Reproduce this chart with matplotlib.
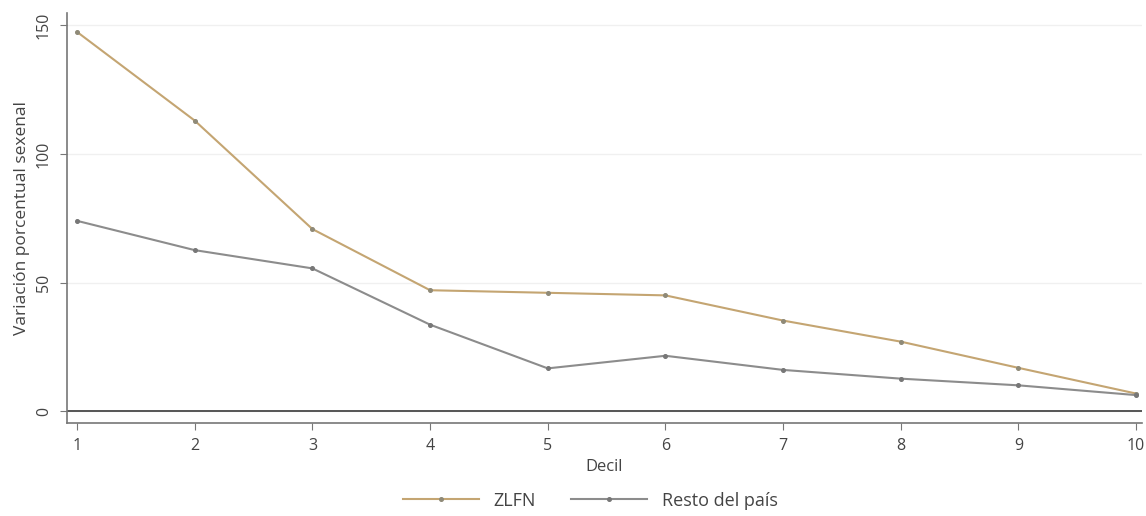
import matplotlib
matplotlib.use("Agg")
import matplotlib.pyplot as plt

deciles = [1, 2, 3, 4, 5, 6, 7, 8, 9, 10]
zlfn = [147.5, 113.0, 70.8, 47.0, 46.0, 45.0, 35.2, 27.0, 16.8, 6.8]
resto = [74.0, 62.6, 55.5, 33.6, 16.6, 21.5, 16.0, 12.6, 10.0, 6.2]
yticks = [0, 50, 100, 150]

plt.rcParams['font.family'] = ['Open Sans', 'DejaVu Sans']

fig = plt.figure(figsize=(11.46, 5.16), dpi=100)
ax = fig.add_axes([0.0585, 0.180, 0.938, 0.795])

ax.axhline(0, color='#555555', lw=1.4, zorder=1)
l1, = ax.plot(deciles, zlfn, color='#c4a572', lw=1.5, marker='o', ms=2.6,
              mfc='#8f8a78', mec='#8f8a78', label='ZLFN', zorder=3)
l2, = ax.plot(deciles, resto, color='#8c8c8c', lw=1.5, marker='o', ms=2.6,
              mfc='#777777', mec='#777777', label='Resto del país', zorder=3)

ax.set_xlim(0.915, 10.05)
ax.set_ylim(-4.7, 154.9)
ax.set_xticks(deciles)
ax.set_yticks(yticks)
ax.set_yticklabels([str(v) for v in yticks], rotation=90, va='center')
ax.grid(axis='y', color='#f0f0f0', lw=1)
ax.set_axisbelow(True)

for s in ['top', 'right']:
    ax.spines[s].set_visible(False)
for s in ['left', 'bottom']:
    ax.spines[s].set_color('#777777')
    ax.spines[s].set_linewidth(1.2)
ax.tick_params(colors='#777777', labelcolor='#444444', labelsize=11.5, length=5)
ax.tick_params(axis='x', pad=6)
ax.tick_params(axis='y', pad=6)

ax.set_xlabel('Decil', fontsize=12, color='#444444', labelpad=3)
ax.set_ylabel('Variación porcentual sexenal', fontsize=12.5, color='#444444', labelpad=4)

fig.legend(handles=[l1, l2], loc='center', bbox_to_anchor=(0.515, 0.03), ncol=2,
           frameon=False, fontsize=13, labelcolor='#444444', handlelength=4.2,
           columnspacing=2.0, handletextpad=0.8)

fig.savefig('out.png', dpi=100, facecolor='white')
